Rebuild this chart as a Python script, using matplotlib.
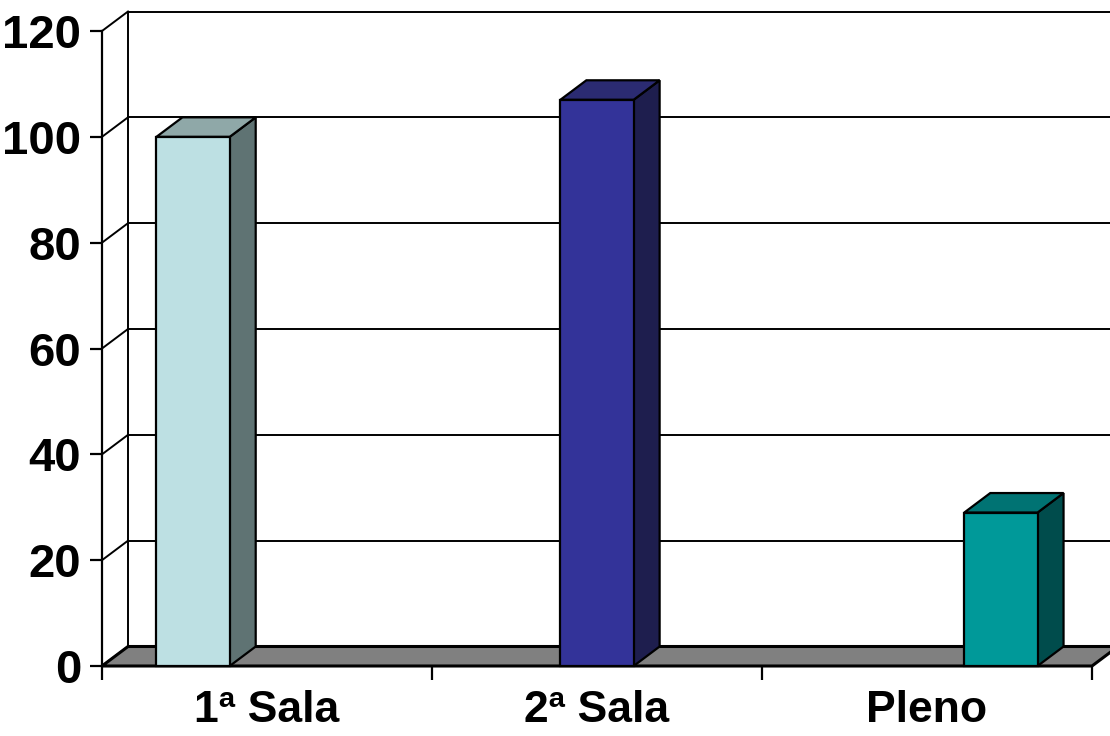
import numpy as np
import matplotlib.pyplot as plt
from matplotlib.patches import Polygon
from matplotlib.lines import Line2D
from matplotlib.transforms import IdentityTransform

# chart data
categories = ['1ª Sala', '2ª Sala', 'Pleno']
values = [100, 107, 29]
y_ticks = [0, 20, 40, 60, 80, 100, 120]

# excel-ish 3d colours: front / top / side faces
front_colors = ['#bde0e3', '#333399', '#009999']
top_colors = ['#8fa8a8', '#2b2b72', '#007373']
side_colors = ['#5f7373', '#1e1e4e', '#004c4c']

plt.rcParams['font.family'] = ['Liberation Sans', 'DejaVu Sans']
plt.rcParams['font.weight'] = 'bold'

W, H = 1110, 736
fig = plt.figure(figsize=(W / 100, H / 100), dpi=100)
ax = fig.add_axes([102 / W, (H - 666) / H, 990 / W, 635 / H])
ax.set_xlim(0, 3)
ax.set_ylim(0, 120)
ax.set_autoscale_on(False)
ax.patch.set_visible(False)
for s in ['top', 'right', 'bottom']:
    ax.spines[s].set_visible(False)
ax.spines['left'].set_linewidth(1.6)

# depth of the 3d box, in pixels
DX, DY = 26, 19.5
ident = IdentityTransform()


def disp(x, y):
    return ax.transData.transform((x, y))


def back(p):
    return (p[0] + DX, p[1] + DY)


def add_poly(pts, color, z, lw=1.6):
    ax.add_patch(Polygon(pts, closed=True, transform=ident, facecolor=color,
                         edgecolor='black', lw=lw, zorder=z, clip_on=False))


def add_line(p0, p1, z=1, lw=1.4):
    ax.add_line(Line2D([p0[0], p1[0]], [p0[1], p1[1]], transform=ident,
                       color='black', lw=lw, zorder=z, clip_on=False))


# back wall gridlines + left wall diagonals
for v in y_ticks:
    f = disp(0, v)
    b = back(f)
    add_line(f, b)
    add_line(b, (W + 20, b[1]))
add_line(back(disp(0, 0)), back(disp(0, 120)))

# floor
f0, f1 = disp(0, 0), disp(3, 0)
add_poly([f0, f1, back(f1), back(f0)], '#808080', 2, lw=2.2)

# bars
bar_w = 0.222
centers = 1.5 + (np.arange(len(values)) - 1) * 1.224
for i, v in enumerate(values):
    bl = disp(centers[i] - bar_w / 2, 0)
    br = disp(centers[i] + bar_w / 2, 0)
    tl = disp(centers[i] - bar_w / 2, v)
    tr = disp(centers[i] + bar_w / 2, v)
    add_poly([br, tr, back(tr), back(br)], side_colors[i], 3)
    add_poly([tl, tr, back(tr), back(tl)], top_colors[i], 3)
    add_poly([bl, br, tr, tl], front_colors[i], 4)

ax.set_yticks(y_ticks)
ax.tick_params(axis='y', direction='out', length=9, width=1.6, pad=6, labelsize=34)
ax.set_xticks([0, 1, 2, 3])
ax.set_xticklabels([])
ax.set_xticks([0.5, 1.5, 2.5], minor=True)
ax.set_xticklabels(categories, minor=True)
ax.tick_params(axis='x', which='major', direction='out', length=10, width=1.6)
ax.tick_params(axis='x', which='minor', length=0, pad=17, labelsize=32)

fig.savefig('out.png', dpi=100)
